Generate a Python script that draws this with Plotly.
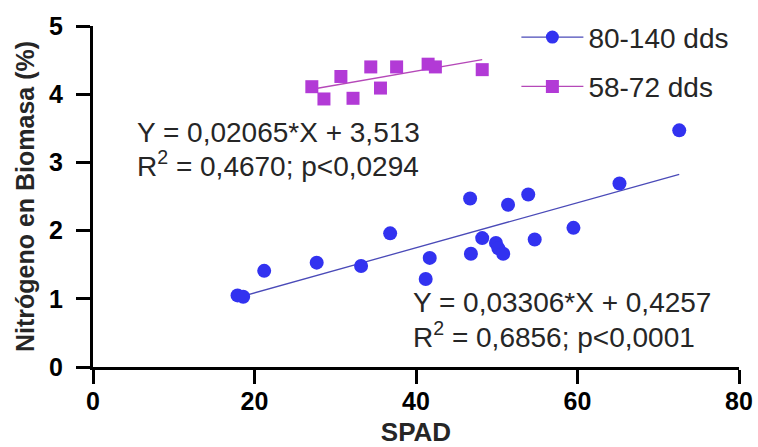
import plotly.graph_objects as go

# SPAD readings and biomass nitrogen (%) for the two sampling windows
spad_late = [17.9, 18.6, 21.2, 27.7, 33.2, 36.8, 41.2, 41.7, 46.7, 46.8,
             48.2, 49.9, 50.2, 50.8, 51.4, 53.9, 54.7, 59.5, 65.2, 72.6]
n_late = [1.05, 1.03, 1.41, 1.53, 1.48, 1.96, 1.29, 1.60, 2.47, 1.66,
          1.89, 1.82, 1.74, 1.66, 2.38, 2.53, 1.87, 2.04, 2.69, 3.47]

spad_early = [27.1, 28.6, 30.7, 32.2, 34.4, 35.6, 37.6, 41.5, 42.4, 48.2]
n_early = [4.11, 3.93, 4.26, 3.94, 4.40, 4.09, 4.40, 4.44, 4.40, 4.36]

# Linear fits (slope, intercept) as reported
fit_late = (0.03306, 0.4257)
fit_early = (0.02065, 3.513)

series_names = ["80-140 dds", "58-72 dds"]
x_ticks = [0, 20, 40, 60, 80]
y_ticks = [0, 1, 2, 3, 4, 5]

BLUE = "#3232f0"
BLUE_LINE = "#4a4ab8"
PURPLE = "#b23ad6"
PURPLE_LINE = "#b548b8"
TEXT = "#262626"
FONT = "Liberation Sans, Arial, sans-serif"


def fit_line(xs, fit):
    lo, hi = min(xs), max(xs)
    m, b = fit
    return [lo, hi], [m * lo + b, m * hi + b]


fig = go.Figure()

lx, ly = fit_line(spad_late, fit_late)
fig.add_trace(go.Scatter(x=lx, y=ly, mode="lines", showlegend=False,
                         line=dict(color=BLUE_LINE, width=1.3)))
lx, ly = fit_line(spad_early, fit_early)
fig.add_trace(go.Scatter(x=lx, y=ly, mode="lines", showlegend=False,
                         line=dict(color=PURPLE_LINE, width=1.3)))

fig.add_trace(go.Scatter(x=spad_late, y=n_late, mode="markers", showlegend=False,
                         marker=dict(symbol="circle", size=14, color=BLUE,
                                     line=dict(width=0))))
fig.add_trace(go.Scatter(x=spad_early, y=n_early, mode="markers", showlegend=False,
                         marker=dict(symbol="square", size=13, color=PURPLE,
                                     line=dict(width=0))))

# Legend entries showing line + marker
fig.add_trace(go.Scatter(x=[None], y=[None], mode="lines+markers", name=series_names[0],
                         legendgroup="a",
                         line=dict(color=BLUE_LINE, width=1.3),
                         marker=dict(symbol="circle", size=13, color=BLUE)))
fig.add_trace(go.Scatter(x=[None], y=[None], mode="lines+markers", name=series_names[1],
                         legendgroup="b",
                         line=dict(color=PURPLE_LINE, width=1.3),
                         marker=dict(symbol="square", size=13, color=PURPLE)))

# Fit equations, one annotation per text line
ann_font = dict(family=FONT, size=28, color=TEXT)
eq_lines = [
    (5.2, 3.445, "Y = 0,02065*X + 3,513"),
    (5.2, 2.975, "R<sup>2</sup> = 0,4670; p<0,0294"),
    (39.4, 0.945, "Y = 0,03306*X + 0,4257"),
    (39.4, 0.475, "R<sup>2</sup> = 0,6856; p<0,0001"),
]
for ax_, ay_, txt in eq_lines:
    fig.add_annotation(x=ax_, y=ay_, xref="x", yref="y", xanchor="left",
                       yanchor="middle", showarrow=False, align="left",
                       font=ann_font, text=txt)

axis_common = dict(showline=True, linewidth=3, linecolor="black", mirror=False,
                   ticks="outside", ticklen=14, tickwidth=3, tickcolor="black",
                   showgrid=False, zeroline=False, automargin=False,
                   tickfont=dict(family=FONT, size=25, color="black", weight="bold"))

fig.update_xaxes(range=[0, 80], tickvals=x_ticks, ticklabelstandoff=-4,
                 title=dict(text="<b>SPAD</b>", standoff=22,
                            font=dict(family=FONT, size=26, color=TEXT)),
                 **axis_common)
fig.update_yaxes(range=[0, 5], tickvals=y_ticks, ticklabelstandoff=8,
                 title=dict(text="<b>Nitrógeno en Biomasa (%)</b>", standoff=8,
                            font=dict(family=FONT, size=25, color=TEXT)),
                 **axis_common)

fig.update_layout(
    width=758, height=447,
    margin=dict(l=93, r=19, t=23, b=80),
    paper_bgcolor="white", plot_bgcolor="white",
    legend=dict(x=0.6554, y=1.04, xanchor="left", yanchor="top",
                bgcolor="rgba(0,0,0,0)", tracegroupgap=10, itemwidth=62,
                font=dict(family=FONT, size=28, color=TEXT)),
)

fig.write_html("out.html")
